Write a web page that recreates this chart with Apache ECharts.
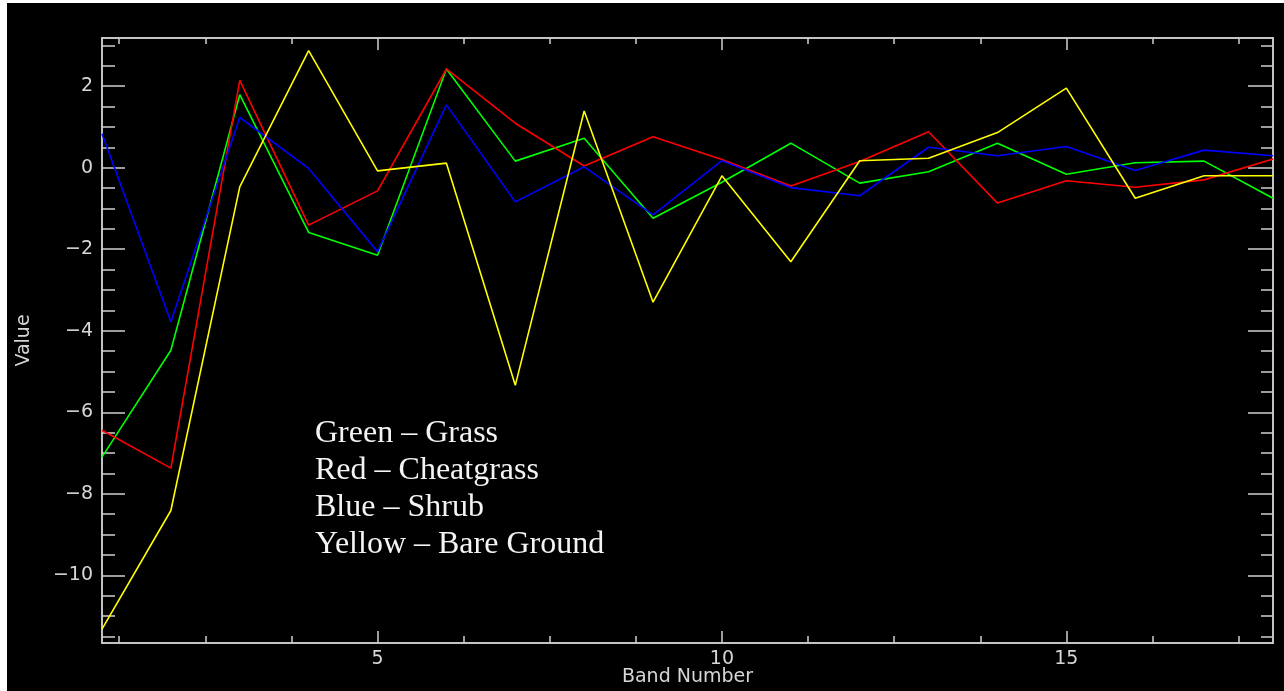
<!DOCTYPE html>
<html>
<head>
<meta charset="utf-8">
<title>Band Number vs Value</title>
<script src="https://cdn.jsdelivr.net/npm/echarts@6/dist/echarts.min.js"></script>
<style>
  html, body { margin: 0; padding: 0; background: #ffffff; width: 1284px; height: 691px; overflow: hidden; }
  #chart { position: absolute; left: 7px; top: 3px; width: 1277px; height: 688px; background: #000000; }
</style>
</head>
<body>
<div id="chart"></div>
<script>
// Band numbers along the x axis
const bands = [1, 2, 3, 4, 5, 6, 7, 8, 9, 10, 11, 12, 13, 14, 15, 16, 17, 18];

// Values per cover class
const grass       = [-7.10, -4.48, 1.79, -1.59, -2.15, 2.42, 0.16, 0.72, -1.24, -0.36, 0.60, -0.38, -0.10, 0.60, -0.16, 0.12, 0.16, -0.75];
const cheatgrass  = [-6.44, -7.37, 2.14, -1.41, -0.57, 2.42, 1.09, 0.04, 0.76, 0.20, -0.45, 0.15, 0.88, -0.87, -0.32, -0.48, -0.30, 0.21];
const shrub       = [0.83, -3.78, 1.23, -0.02, -2.06, 1.54, -0.84, 0.02, -1.16, 0.17, -0.49, -0.69, 0.50, 0.29, 0.52, -0.07, 0.43, 0.29];
const bareGround  = [-11.32, -8.41, -0.47, 2.87, -0.08, 0.11, -5.34, 1.39, -3.30, -0.20, -2.31, 0.17, 0.23, 0.86, 1.95, -0.75, -0.20, -0.20];

// Tick positions and labels
const xMajorTicks = [5, 10, 15];
const xMinorTicks = [1.25, 2.5, 3.75, 6.25, 7.5, 8.75, 11.25, 12.5, 13.75, 16.25, 17.5];
const yMajorTicks = [-10, -8, -6, -4, -2, 0, 2];
const yMinorTicks = [-11.5, -11, -10.5, -9.5, -9, -8.5, -7.5, -7, -6.5, -5.5, -5, -4.5,
                     -3.5, -3, -2.5, -1.5, -1, -0.5, 0.5, 1, 1.5, 2.5, 3];

// Key text written inside the plot
const keyLines = ['Green \u2013 Grass', 'Red \u2013 Cheatgrass', 'Blue \u2013 Shrub', 'Yellow \u2013 Bare Ground'];

const X_MIN = 1, X_MAX = 18;
const Y_MIN = -11.66, Y_MAX = 3.18;

const axisColor = '#cfcfcf';
const labelFont = { color: '#d6d6d6', fontFamily: 'DejaVu Sans', fontSize: 19 };

function pairs(vals) { return bands.map((b, i) => [b, vals[i]]); }

function xAxisDef(position, ticks, len, withLabels) {
  return {
    type: 'value', position: position, min: X_MIN, max: X_MAX, offset: 0,
    axisLine: { show: true, onZero: false, lineStyle: { color: axisColor, width: 1.5 } },
    axisTick: { show: true, inside: true, length: len, customValues: ticks,
                lineStyle: { color: axisColor, width: 1.5 } },
    axisLabel: withLabels
      ? Object.assign({ show: true, customValues: ticks, margin: 7 }, labelFont)
      : { show: false },
    splitLine: { show: false }
  };
}

function yAxisDef(position, ticks, len, withLabels) {
  return {
    type: 'value', position: position, min: Y_MIN, max: Y_MAX, offset: 0,
    axisLine: { show: true, onZero: false, lineStyle: { color: axisColor, width: 1.5 } },
    axisTick: { show: true, inside: true, length: len, customValues: ticks,
                lineStyle: { color: axisColor, width: 1.5 } },
    axisLabel: withLabels
      ? Object.assign({ show: true, customValues: ticks, margin: 9,
          formatter: v => (v < 0 ? '\u2212' + Math.abs(v) : String(v)) }, labelFont)
      : { show: false },
    splitLine: { show: false }
  };
}

const xAxes = [
  Object.assign(xAxisDef('bottom', xMajorTicks, 12, true), {
    name: 'Band Number', nameLocation: 'middle', nameGap: 25, nameMoveOverlap: false,
    nameTextStyle: labelFont
  }),
  xAxisDef('bottom', xMinorTicks, 7, false),
  xAxisDef('top', xMajorTicks, 12, false),
  xAxisDef('top', xMinorTicks, 6, false)
];

const yAxes = [
  Object.assign(yAxisDef('left', yMajorTicks, 23, true), {
    name: 'Value', nameLocation: 'middle', nameGap: 68, nameMoveOverlap: false,
    nameTextStyle: labelFont
  }),
  yAxisDef('left', yMinorTicks, 13, false),
  yAxisDef('right', yMajorTicks, 25, false),
  yAxisDef('right', yMinorTicks, 12, false)
];

function lineSeries(name, vals, color) {
  return {
    name: name, type: 'line', data: pairs(vals),
    xAxisIndex: 0, yAxisIndex: 0,
    symbol: 'none', smooth: false,
    lineStyle: { color: color, width: 1.6 },
    emphasis: { disabled: true }
  };
}

const keyGraphics = keyLines.map((t, i) => ({
  type: 'text', left: 308, top: 415 + i * 37,
  style: { text: t, fill: '#f4f4f4', font: '32px "Liberation Serif", "Times New Roman", serif' },
  silent: true
}));

const chart = echarts.init(document.getElementById('chart'), null, { renderer: 'canvas' });
chart.setOption({
  backgroundColor: '#000000',
  animation: false,
  grid: { left: 95, top: 35, right: 11, bottom: 48, containLabel: false, outerBoundsMode: 'none' },
  xAxis: xAxes,
  yAxis: yAxes,
  series: [
    lineSeries('Grass', grass, '#00ff00'),
    lineSeries('Cheatgrass', cheatgrass, '#ff0000'),
    lineSeries('Shrub', shrub, '#0000ff'),
    lineSeries('Bare Ground', bareGround, '#ffff00')
  ],
  graphic: keyGraphics
});
</script>
</body>
</html>
